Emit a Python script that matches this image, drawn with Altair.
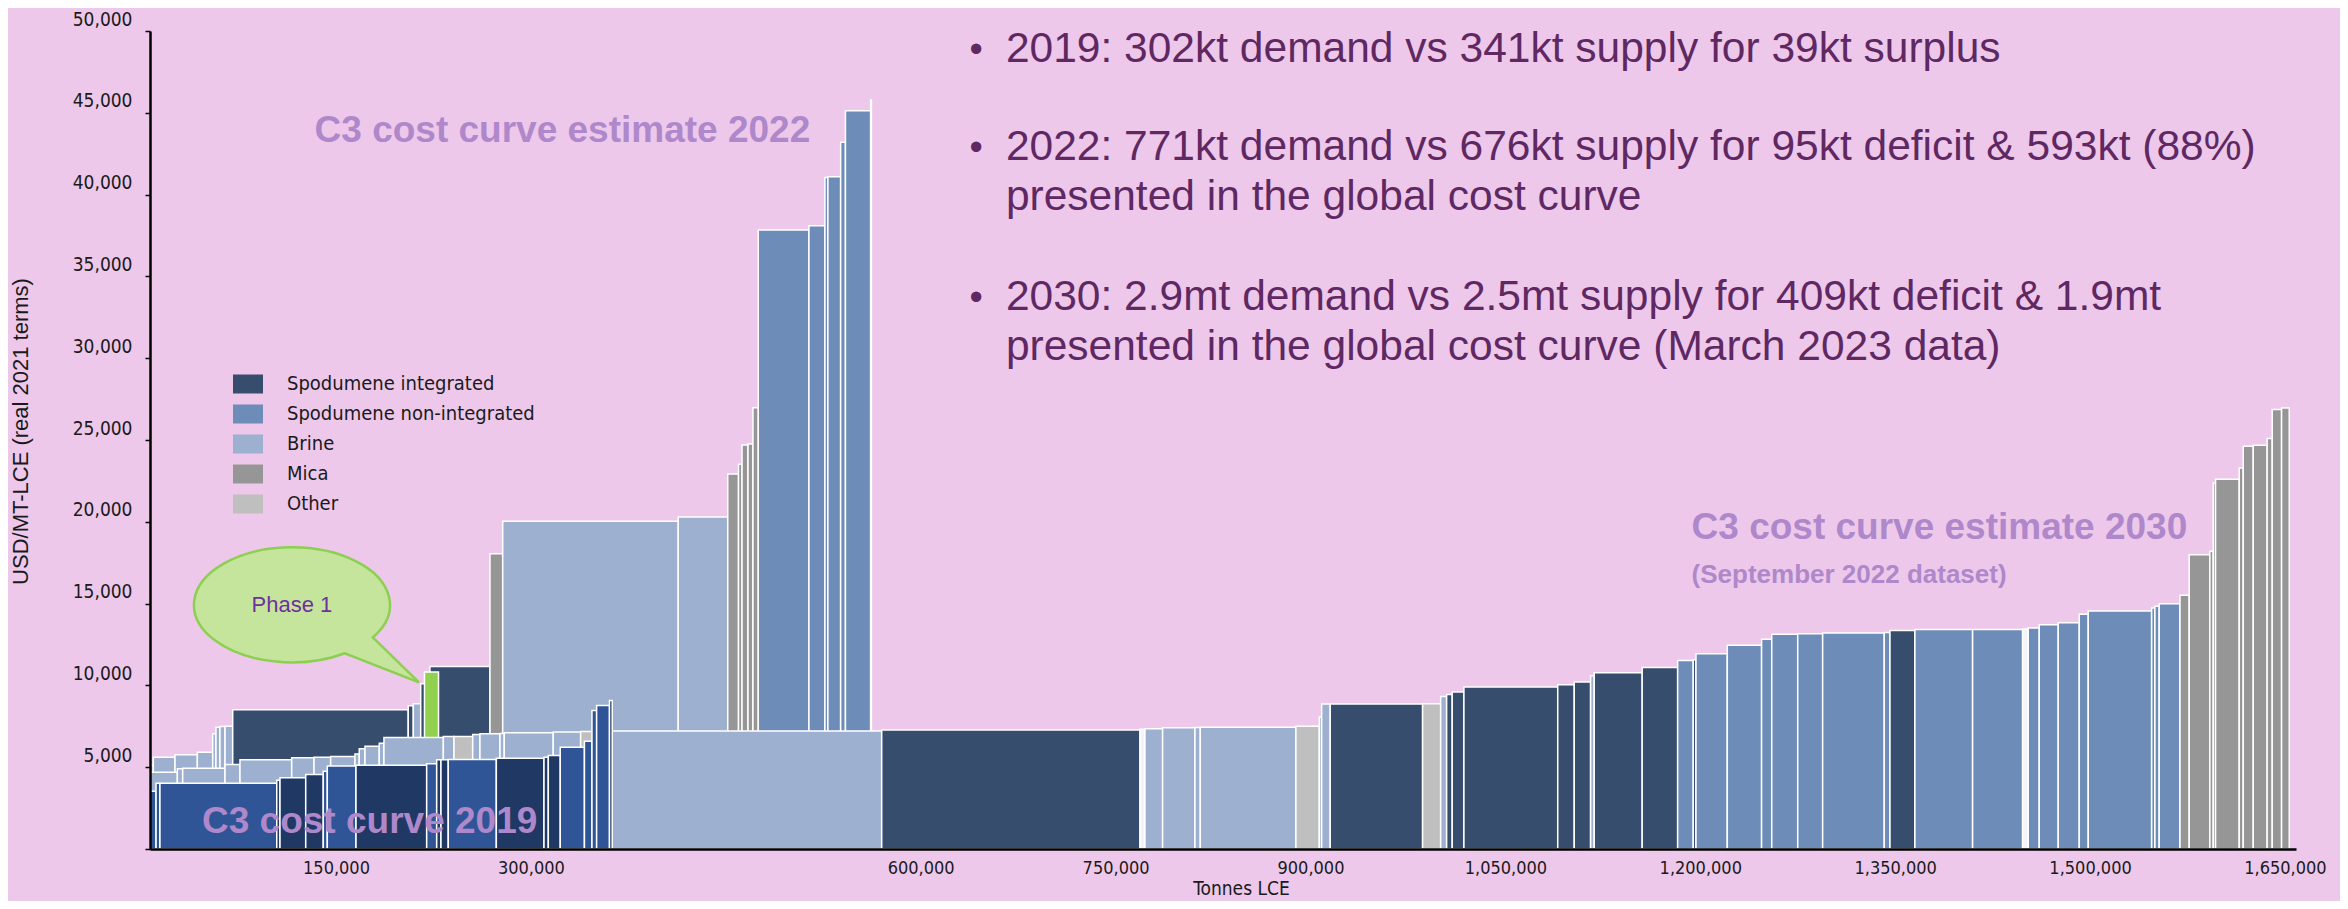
import math
import altair as alt
import pandas as pd

# ---------------------------------------------------------------- data
# All three curves start at the left edge of the axis (thousand tonnes LCE)
START_KT = 6.85

# 2022 estimate (drawn at the back): right edge of each bar (kt), cost (USD/t), type
ends_2022_kt = [9.4, 26.1, 43.3, 55.1, 57.6, 60.7, 64.6, 70.5, 205.6, 209.5, 215.2, 222.3,
                268.5, 278.3, 413.4, 451.5, 459.8, 462.5, 467.1, 470.9, 475.0, 514.0,
                526.3, 528.6, 538.4, 542.1, 561.5, 562.1]
cost_2022 = [5107, 5615, 5761, 5920, 7045, 7449, 7490, 7510, 8513, 8760, 8880, 10104,
             11160, 18054, 20030, 20293, 22922, 23514, 24695, 24750, 26975, 37836,
             38100, 41050, 41095, 43195, 45130, 45780]
kind_2022 = "BBBBBBBBIIBIIMBBMMMMMNNNNNNN"

# Phase 1 highlight (green bar)
phase1_kt = [218.1, 228.9]
phase1_cost = 10814

# 2030 estimate (September 2022 dataset)
ends_2030_kt = [27.9, 32.0, 64.6, 76.1, 115.9, 133.1, 145.9, 164.6, 167.9, 172.3, 183.3, 186.9,
                232.6, 240.8, 255.2, 260.8, 276.2, 279.5, 317.2, 338.3, 348.0, 362.6, 570.0,
                768.8, 772.6, 786.2, 811.1, 815.2, 888.8, 906.8, 908.6, 915.2, 986.3, 1000.2,
                1004.8, 1009.1, 1018.1, 1090.3, 1103.0, 1115.6, 1118.4, 1155.3, 1182.6, 1194.6,
                1196.7, 1220.8, 1247.2, 1255.0, 1275.0, 1294.2, 1341.6, 1346.0, 1365.2, 1409.6,
                1448.1, 1452.4, 1460.9, 1475.5, 1491.7, 1498.6, 1547.4, 1549.9, 1553.2, 1569.2,
                1576.3, 1592.2, 1594.8, 1596.6, 1614.8, 1617.9, 1625.6, 1636.3, 1640.2, 1647.4,
                1653.3]
cost_2030 = [4697, 4900, 4942, 5168, 5455, 5578, 5615, 5657, 5800, 6128, 6287, 6471,
             6820, 6880, 6880, 7000, 7040, 7060, 7105, 7145, 7186, 7200, 7215,
             7270, 7320, 7351, 7412, 7430, 7449, 7510, 8061, 8870, 8870, 8880,
             9327, 9449, 9600, 9900, 10042, 10205, 10590, 10780, 11100, 11529,
             11570, 11937, 12447, 12814, 13119, 13160, 13200, 13230, 13363, 13424,
             13424, 13450, 13506, 13710, 13832, 14342, 14546, 14730, 14832, 14995,
             15504, 17993, 18195, 22373, 22598, 23290, 24617, 24678, 25087, 26861,
             26960]
kind_2030 = ("BBBBBBBBBBBBBB" + "O" + "BBBBB" + "O" + "BB" + "I" + "W" + "BBBB" + "O" + "BB" +
             "I" + "O" + "B" + "IIIII" + "B" + "II" + "N" + "I" + "NNNNNNN" + "I" + "NN" + "W" +
             "NNNNNNNN" + "MMMMMMMMMMM")

# 2019 curve (drawn on top)
ends_2019_kt = [11.5, 14.5, 104.4, 106.9, 126.7, 140.2, 143.3, 165.4, 219.8, 227.5, 230.8,
                236.4, 273.4, 310.1, 313.4, 322.6, 341.2, 347.0, 350.6, 360.5, 362.6]
cost_2019 = [3535, 4025, 4025, 4200, 4353, 4556, 4760, 5066, 5120, 5210, 5455,
             5455, 5470, 5550, 5615, 5720, 6227, 6585, 8471, 8777, 9082]
kind_2019 = "LLLDDDLLDLDDLDDDLLLLD"

KIND_NAMES = {
    "I": "Spodumene integrated",
    "N": "Spodumene non-integrated",
    "B": "Brine",
    "M": "Mica",
    "O": "Other",
    "W": "Unassigned",
    "L": "2019 curve (light)",
    "D": "2019 curve (dark)",
    "P": "Phase 1",
}
LEGEND_ITEMS = ["Spodumene integrated", "Spodumene non-integrated", "Brine", "Mica", "Other"]
COLOR_DOMAIN = LEGEND_ITEMS + ["Unassigned", "2019 curve (light)", "2019 curve (dark)", "Phase 1"]
COLOR_RANGE = ["#374D6D", "#6D8DB8", "#9DB0CF", "#969696", "#BFBFBF",
               "#F4F4F8", "#2F5597", "#203864", "#92D050"]

X_TICKS = [150000, 300000, 600000, 750000, 900000, 1050000, 1200000, 1350000, 1500000, 1650000]
Y_TICKS = [0, 5000, 10000, 15000, 20000, 25000, 30000, 35000, 40000, 45000, 50000]

# text annotations (positions in axis units: tonnes LCE, USD/t)
curve_labels = pd.DataFrame({
    "x": [133500, 46900, 1193300],
    "y": [43228, 948, 18929],
    "text": ["C3 cost curve estimate 2022", "C3 cost curve 2019", "C3 cost curve estimate 2030"],
})
sub_labels = pd.DataFrame({"x": [1193300], "y": [16238], "text": ["(September 2022 dataset)"]})
bullet_lines = pd.DataFrame({
    "x": [665600] * 5,
    "y": [48121, 42109, 39051, 32935, 29877],
    "text": [
        "2019: 302kt demand vs 341kt supply for 39kt surplus",
        "2022: 771kt demand vs 676kt supply for 95kt deficit & 593kt (88%)",
        "presented in the global cost curve",
        "2030: 2.9mt demand vs 2.5mt supply for 409kt deficit & 1.9mt",
        "presented in the global cost curve (March 2023 data)",
    ],
})
bullet_dots = pd.DataFrame({"x": [637500] * 3, "y": [48121, 42109, 32935], "text": ["•"] * 3})
bubble = pd.DataFrame({"x": [116100], "y": [14923], "text": ["Phase 1"]})

# ---------------------------------------------------------------- helpers
assert len(ends_2022_kt) == len(cost_2022) == len(kind_2022)
assert len(ends_2030_kt) == len(cost_2030) == len(kind_2030)
assert len(ends_2019_kt) == len(cost_2019) == len(kind_2019)


def curve_frame(ends, costs, kinds, start=START_KT):
    rows = []
    left = start
    for e, c, k in zip(ends, costs, kinds):
        rows.append({"x": left * 1000, "x2": e * 1000, "cost": c, "base": 0,
                     "kind": KIND_NAMES[k]})
        left = e
    return pd.DataFrame(rows)


df2022 = curve_frame(ends_2022_kt, cost_2022, kind_2022)
df2030 = curve_frame(ends_2030_kt, cost_2030, kind_2030)
df2019 = curve_frame(ends_2019_kt, cost_2019, kind_2019)
dfp1 = pd.DataFrame([{"x": phase1_kt[0] * 1000, "x2": phase1_kt[1] * 1000,
                      "cost": phase1_cost, "base": 0, "kind": "Phase 1"}])

AX_FONT = "DejaVu Sans Condensed, DejaVu Sans"
TXT = "#1A1A1A"

xscale = alt.Scale(domain=[6850, 1658500], nice=False, zero=False)
yscale = alt.Scale(domain=[0, 50000], nice=False, zero=False)

xaxis = alt.Axis(values=X_TICKS, labelExpr="format(datum.value, ',')", ticks=False, grid=False,
                 domainColor="black", domainWidth=2.5,
                 labelFont=AX_FONT, labelFontSize=18, labelColor=TXT, labelPadding=10,
                 labelFlush=False, labelOverlap=False,
                 title="Tonnes LCE", titleFont=AX_FONT, titleFontSize=19,
                 titleFontWeight="normal", titleColor=TXT, titleX=1091, titleY=45,
                 titleAlign="center", titleBaseline="alphabetic", zindex=2)
yaxis = alt.Axis(values=Y_TICKS, labelExpr="datum.value == 0 ? '' : format(datum.value, ',')",
                 tickSize=5, tickColor="black", tickWidth=1.5, grid=False,
                 domainColor="black", domainWidth=2.5,
                 labelFont=AX_FONT, labelFontSize=19, labelColor=TXT, labelPadding=13,
                 labelOffset=-12, labelOverlap=False,
                 title="USD/MT-LCE  (real  2021  terms)", titleFont="Liberation Sans",
                 titleFontSize=22, titleFontWeight="normal", titleColor=TXT,
                 titleX=-130, titleY=400, titleAngle=270, titleAlign="center",
                 titleBaseline="middle", zindex=2)

RECT_SYMBOL = "M-1,-0.633H1V0.633H-1Z"
legend = alt.Legend(orient="none", legendX=83, legendY=338, values=LEGEND_ITEMS, title=None,
                    symbolType=RECT_SYMBOL, symbolSize=900, symbolStrokeWidth=0,
                    symbolOpacity=1, labelFont=AX_FONT, labelFontSize=20, labelColor=TXT,
                    labelLimit=500, labelOffset=24, rowPadding=5, padding=0)

color = alt.Color("kind:N", scale=alt.Scale(domain=COLOR_DOMAIN, range=COLOR_RANGE), legend=legend)


def X(field="x"):
    return alt.X(f"{field}:Q", scale=xscale, axis=xaxis)


def Y(field="y"):
    return alt.Y(f"{field}:Q", scale=yscale, axis=yaxis)


def bars(df):
    return alt.Chart(df).mark_rect(stroke="white", strokeWidth=1.5).encode(
        x=X("x"), x2="x2", y=Y("cost"), y2="base", color=color)


# speech-bubble outline (unit ellipse with a tail), built as cubic Bezier segments
def bubble_path(b=0.587, t0=34.4, t1=57.3 - 360.0, tip=(1.296, 0.791), nseg=4):
    def pt(t):
        return math.cos(t), b * math.sin(t)

    def d(t):
        return -math.sin(t), b * math.cos(t)

    a0, a1 = math.radians(t0), math.radians(t1)
    step = (a1 - a0) / nseg
    x, y = pt(a0)
    parts = [f"M{x:.4f},{y:.4f}"]
    for i in range(nseg):
        s, e = a0 + i * step, a0 + (i + 1) * step
        k = 4.0 / 3.0 * math.tan(step / 4.0)
        p0, p1 = pt(s), pt(e)
        d0, d1 = d(s), d(e)
        c1 = (p0[0] + k * d0[0], p0[1] + k * d0[1])
        c2 = (p1[0] - k * d1[0], p1[1] - k * d1[1])
        parts.append(f"C{c1[0]:.4f},{c1[1]:.4f} {c2[0]:.4f},{c2[1]:.4f} {p1[0]:.4f},{p1[1]:.4f}")
    parts.append(f"L{tip[0]:.4f},{tip[1]:.4f}Z")
    return " ".join(parts)


bubble_mark = alt.Chart(bubble).mark_point(
    shape=bubble_path(), size=38416, filled=True, fill="#C5E49C", stroke="#8DCF50",
    strokeWidth=2.5, opacity=1).encode(x=X(), y=Y())
bubble_text = alt.Chart(bubble).mark_text(
    font="Liberation Sans", fontSize=22, color="#7030A0", align="center",
    baseline="middle").encode(x=X(), y=Y(), text="text:N")

LILAC = "#AE88CA"
big_labels = alt.Chart(curve_labels).mark_text(
    font="Liberation Sans", fontSize=37, fontWeight="bold", color=LILAC, align="left",
    baseline="alphabetic").encode(x=X(), y=Y(), text="text:N")
small_labels = alt.Chart(sub_labels).mark_text(
    font="Liberation Sans", fontSize=26, fontWeight="bold", color=LILAC, align="left",
    baseline="alphabetic").encode(x=X(), y=Y(), text="text:N")
bullets = alt.Chart(bullet_lines).mark_text(
    font="Liberation Sans", fontSize=42.5, color="#5F2862", align="left",
    baseline="alphabetic").encode(x=X(), y=Y(), text="text:N")
dots = alt.Chart(bullet_dots).mark_text(
    font="Liberation Sans", fontSize=38, color="#5F2862", align="left",
    baseline="alphabetic").encode(x=X(), y=Y(), text="text:N")

chart = alt.layer(
    bars(df2022), bars(dfp1), bars(df2030), bars(df2019),
    bubble_mark, bubble_text, big_labels, small_labels, bullets, dots,
).properties(
    width=2146, height=818,
    autosize=alt.AutoSizeParams(type="none"),
    padding={"left": 142, "top": 23, "right": 44, "bottom": 52},
).configure(
    background="#EDC8EA",
).configure_view(stroke=None).configure_legend(
    labelLimit=500, labelFontSize=20, symbolSize=900, symbolType=RECT_SYMBOL, rowPadding=5,
)

chart.save("out.html", embed_options={"renderer": "svg", "actions": False})
